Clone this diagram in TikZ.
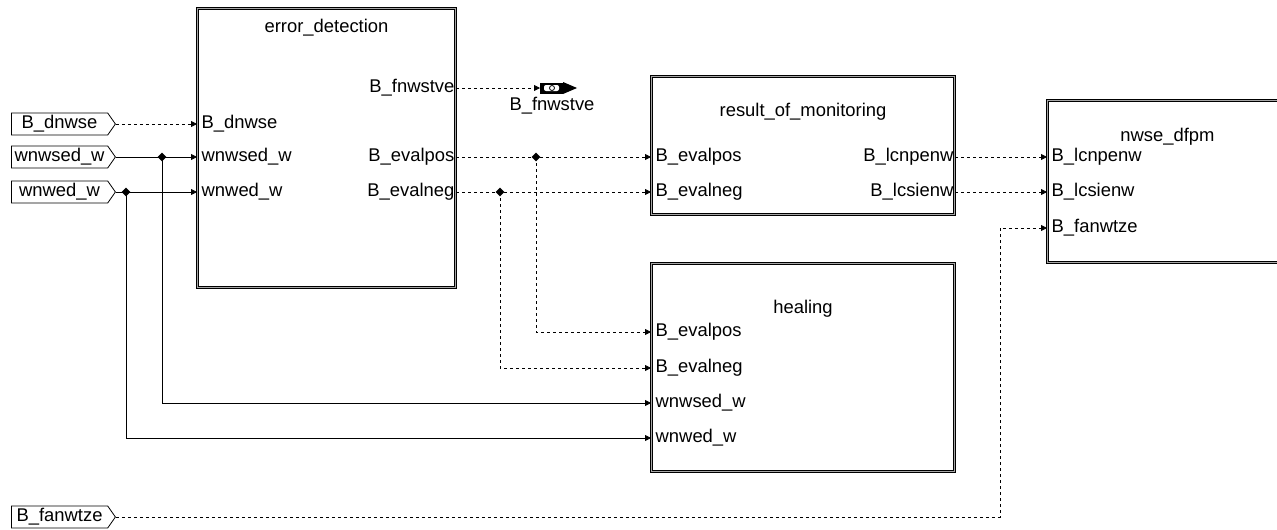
\documentclass[tikz,border=0pt]{standalone}
\usepackage{fontspec}
\setmainfont{Liberation Sans}
\usetikzlibrary{arrows.meta,shapes.geometric,shapes.symbols,positioning,calc}

\begin{document}
\begin{tikzpicture}[
  x=1pt, y=-1pt,
  font=\fontsize{18.4}{21}\selectfont,
  block/.style={draw, line width=1pt, double=gray!70, double distance=1.5pt, anchor=north west, inner sep=0pt},
  extin/.style={draw, line width=0.8pt, shape=signal, signal to=east, signal pointer angle=110, minimum width=104pt, minimum height=22pt, inner sep=1pt},
  pin/.style={inner xsep=4.5pt, inner ysep=0pt},
  title/.style={inner sep=0pt},
  dot/.style={diamond, fill=black, inner sep=0pt, minimum size=9pt},
  wire/.style={line width=0.8pt, -{Triangle[length=6pt,width=6pt]}},
  dwire/.style={wire, dash pattern=on 3pt off 3pt}
]
\useasboundingbox (0,0) rectangle (1277,530);
\clip (0,0) rectangle (1277,530);

% blocks
\node[block, minimum width=258, minimum height=279] (errdet) at (197,8) {};
\node[block, minimum width=303, minimum height=138] (resmon) at (651,76) {};
\node[block, minimum width=303, minimum height=208] (heal) at (651,263) {};
\node[block, minimum width=240, minimum height=162] (dfpm) at (1047,100) {};

\node[title] (errdet-t) at ($(errdet.north)+(0,20)$) {error\_detection};
\node[title] (resmon-t) at ($(resmon.north)+(0,36)$) {result\_of\_monitoring};
\node[title] (heal-t) at ($(heal.north)+(0,46)$) {healing};
\node[title] (dfpm-t) at ($(dfpm.north)+(0,37)$) {nwse\_dfpm};

% ports of error_detection
\node[pin, anchor=west] (ed-dnwse) at (errdet.west |- 0,124) {B\_dnwse};
\node[pin, anchor=west] (ed-wnwsed) at (errdet.west |- 0,157) {wnwsed\_w};
\node[pin, anchor=west] (ed-wnwed) at (errdet.west |- 0,192) {wnwed\_w};
\node[pin, anchor=east, inner xsep=1.5pt] (ed-fnwstve) at (errdet.east |- 0,88) {B\_fnwstve};
\node[pin, anchor=east, inner xsep=1.5pt] (ed-evalpos) at (errdet.east |- 0,157) {B\_evalpos};
\node[pin, anchor=east, inner xsep=1.5pt] (ed-evalneg) at (errdet.east |- 0,192) {B\_evalneg};

% ports of result_of_monitoring
\node[pin, anchor=west] (rm-evalpos) at (resmon.west |- 0,157) {B\_evalpos};
\node[pin, anchor=west] (rm-evalneg) at (resmon.west |- 0,192) {B\_evalneg};
\node[pin, anchor=east, inner xsep=1.5pt] (rm-lcnpenw) at (resmon.east |- 0,157) {B\_lcnpenw};
\node[pin, anchor=east, inner xsep=1.5pt] (rm-lcsienw) at (resmon.east |- 0,192) {B\_lcsienw};

% ports of healing
\node[pin, anchor=west] (hl-evalpos) at (heal.west |- 0,332) {B\_evalpos};
\node[pin, anchor=west] (hl-evalneg) at (heal.west |- 0,368) {B\_evalneg};
\node[pin, anchor=west] (hl-wnwsed) at (heal.west |- 0,403) {wnwsed\_w};
\node[pin, anchor=west] (hl-wnwed) at (heal.west |- 0,438) {wnwed\_w};

% ports of nwse_dfpm
\node[pin, anchor=west] (df-lcnpenw) at (dfpm.west |- 0,157) {B\_lcnpenw};
\node[pin, anchor=west] (df-lcsienw) at (dfpm.west |- 0,192) {B\_lcsienw};
\node[pin, anchor=west] (df-fanwtze) at (dfpm.west |- 0,228) {B\_fanwtze};

% external inputs
\node[extin, anchor=west] (x-dnwse) at (11,124) {B\_dnwse};
\node[extin, anchor=west] (x-wnwsed) at (11,157) {wnwsed\_w};
\node[extin, anchor=west] (x-wnwed) at (11,192) {wnwed\_w};
\node[extin, anchor=west] (x-fanwtze) at (11,517) {B\_fanwtze};

% junctions
\node[dot] (j-wnwsed) at (162,157) {};
\node[dot] (j-wnwed) at (126,192) {};
\node[dot] (j-evalpos) at (536,157) {};
\node[dot] (j-evalneg) at (500,192) {};
\coordinate (fan-bend) at (1000,517);

% output B_fnwstve
\coordinate (fnw-sym) at (540,88);
\fill ($(fnw-sym)+(0,-5.5)$) rectangle ($(fnw-sym)+(23,5.5)$);
\fill[white, rounded corners=2pt] ($(fnw-sym)+(4,-3)$) rectangle ($(fnw-sym)+(19,3)$);
\draw[line width=0.8pt] ($(fnw-sym)+(12,0)$) circle (2.5pt);
\fill ($(fnw-sym)+(23,-6)$) -- ($(fnw-sym)+(37,0)$) -- ($(fnw-sym)+(23,6)$) -- cycle;
\node (fnw-lbl) at (552,106) {B\_fnwstve};

% connections
\draw[dwire] (x-dnwse.east) -- (ed-dnwse.west);
\draw[wire] (x-wnwsed.east) -- (ed-wnwsed.west);
\draw[wire] (x-wnwed.east) -- (ed-wnwed.west);
\draw[wire] (j-wnwsed.center) |- (hl-wnwsed.west);
\draw[wire] (j-wnwed.center) |- (hl-wnwed.west);
\draw[dwire] (ed-fnwstve.east) -- (fnw-sym);
\draw[dwire] (ed-evalpos.east) -- (rm-evalpos.west);
\draw[dwire] (ed-evalneg.east) -- (rm-evalneg.west);
\draw[dwire] (j-evalpos.center) |- (hl-evalpos.west);
\draw[dwire] (j-evalneg.center) |- (hl-evalneg.west);
\draw[dwire] (rm-lcnpenw.east) -- (df-lcnpenw.west);
\draw[dwire] (rm-lcsienw.east) -- (df-lcsienw.west);
\draw[dwire] (x-fanwtze.east) -- (fan-bend) |- (df-fanwtze.west);
\end{tikzpicture}
\end{document}
